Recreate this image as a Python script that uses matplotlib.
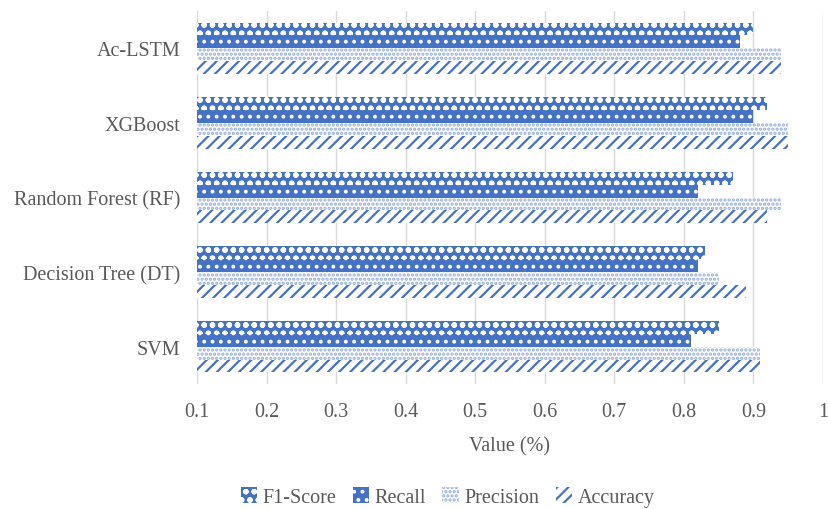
import numpy as np
import matplotlib.pyplot as plt

# data
models = ['SVM', 'Decision Tree (DT)', 'Random Forest (RF)', 'XGBoost', 'Ac-LSTM']
f1_score = [0.85, 0.83, 0.87, 0.92, 0.90]
recall = [0.81, 0.82, 0.82, 0.90, 0.88]
precision = [0.91, 0.85, 0.94, 0.95, 0.94]
accuracy = [0.91, 0.89, 0.92, 0.95, 0.94]
xticks = [0.1, 0.2, 0.3, 0.4, 0.5, 0.6, 0.7, 0.8, 0.9, 1.0]
xtick_labels = ['0.1', '0.2', '0.3', '0.4', '0.5', '0.6', '0.7', '0.8', '0.9', '1']

blue = '#4472C4'
grey = '#595959'

plt.rcParams['font.family'] = ['Liberation Serif', 'DejaVu Serif']
plt.rcParams['hatch.linewidth'] = 1.6

fig = plt.figure(figsize=(8.29, 5.10), dpi=100)
ax = fig.add_axes([197 / 829, 1 - 385 / 510, 626 / 829, 373 / 510])

y = np.arange(len(models))
h = 0.172
base = 0.1

# series from top to bottom inside each group
series = [
    ('F1-Score', f1_score, dict(color=blue, edgecolor='white', hatch='oo')),
    ('Recall', recall, dict(color=blue, edgecolor='white', hatch='..')),
    ('Precision', precision, dict(color='white', edgecolor='#8faadc', hatch='....')),
    ('Accuracy', accuracy, dict(color='white', edgecolor=blue, hatch='///')),
]

handles = []
for i, (name, vals, style) in enumerate(series):
    off = (1.5 - i) * h
    widths = [v - base for v in vals]
    b = ax.barh(y + off, widths, height=h, left=base, linewidth=0, label=name, **style)
    handles.append(b)

ax.set_xlim(0.1, 1.0)
ax.set_ylim(-0.5, len(models) - 0.5)
ax.set_xticks(xticks)
ax.set_xticklabels(xtick_labels)
ax.set_yticks(y)
ax.set_yticklabels(models)
ax.tick_params(axis='both', length=0, labelsize=14.5, colors=grey)
ax.tick_params(axis='x', pad=13)
ax.tick_params(axis='y', pad=12)
ax.xaxis.grid(True, color='#d9d9d9', linewidth=1)
ax.set_axisbelow(True)
for s in ax.spines.values():
    s.set_visible(False)

ax.set_xlabel('Value (%)', fontsize=14.5, color=grey, labelpad=11)

fig.legend(handles=handles, loc='center', bbox_to_anchor=(0.540, 1 - 498 / 510), ncol=4,
           frameon=False, fontsize=14.5, labelcolor=grey, handlelength=0.8, handleheight=0.8,
           handletextpad=0.3, columnspacing=0.8)

fig.savefig('out.png', dpi=100)
